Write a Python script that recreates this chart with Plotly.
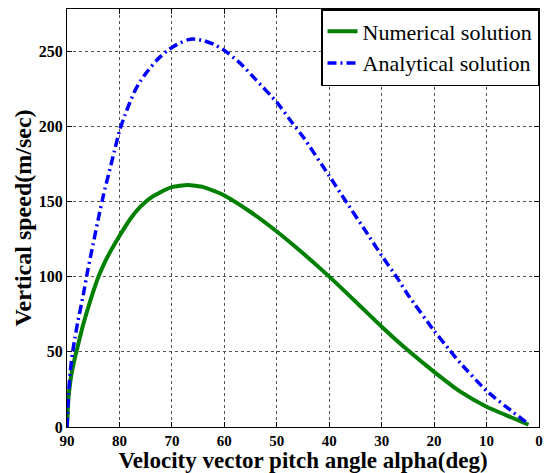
import plotly.graph_objects as go

# Pitch angle samples (deg) and vertical speed (m/sec) for each solution
alpha_num = [90, 89.7, 89.3, 89, 88.5, 88, 87, 86, 85, 84, 83, 82, 80, 78,
             76, 74, 72, 70, 67, 64, 62, 60, 55, 50, 45, 40, 35, 30, 25, 20,
             15, 10, 5, 2]
speed_num = [0, 20, 32, 38, 46, 53, 67, 79, 90, 100, 108, 115, 127, 138,
             146.5, 152.5, 156.5, 159.5, 161, 159.5, 157, 154, 143, 130,
             115.5, 100, 83.5, 66.7, 51, 36.7, 23.5, 13.5, 6, 1.5]

alpha_ana = [90, 89.7, 89.4, 89, 88.5, 88, 87, 86, 85, 84, 83, 82, 81, 80,
             79, 78, 77, 76, 75, 73, 71, 69, 67, 66, 64, 62, 60, 57, 54, 50,
             47, 45, 40, 37, 33, 30, 27, 25, 20, 17, 15, 10, 5, 2]
speed_ana = [0, 22, 36, 48, 59, 69, 86, 105, 122, 139, 155, 169, 183, 197,
             207, 216, 224, 230, 235, 243.5, 250, 254.5, 257.5, 258, 257,
             254.5, 250.5, 242, 231, 216, 202, 193, 167, 151, 130, 114, 99,
             88, 64, 51, 42.5, 24, 10, 2]

x_ticks = [90, 80, 70, 60, 50, 40, 30, 20, 10, 0]
y_ticks = [0, 50, 100, 150, 200, 250]

serif = "Liberation Serif, Times New Roman, serif"

fig = go.Figure()
fig.add_trace(go.Scatter(
    x=alpha_num, y=speed_num, mode="lines", name="Numerical solution",
    line=dict(color="#008000", width=4, shape="spline", smoothing=0.5),
))
fig.add_trace(go.Scatter(
    x=alpha_ana, y=speed_ana, mode="lines", name="Analytical solution",
    line=dict(color="#0000ff", width=3.5, dash="9px,4px,2px,4px",
              shape="spline", smoothing=0.5),
))

axis_common = dict(
    showline=True, linecolor="black", linewidth=1.2, mirror="ticks",
    ticks="inside", ticklen=5, tickcolor="black", tickwidth=1,
    showgrid=True, gridcolor="#555555", griddash="dot", gridwidth=1,
    zeroline=False,
)

fig.update_xaxes(
    range=[90, 0], tickvals=x_ticks, ticklabelstandoff=0,
    tickfont=dict(family=serif, size=15, color="black", weight="bold"),
    title=dict(text="Velocity vector pitch angle alpha(deg)", standoff=3,
               font=dict(family=serif, size=23, color="black", weight="bold")),
    **axis_common,
)
fig.update_yaxes(
    range=[0, 278], tickvals=y_ticks,
    tickfont=dict(family=serif, size=16, color="black", weight="bold"),
    title=dict(text="Vertical speed(m/sec)", standoff=0,
               font=dict(family=serif, size=24, color="black", weight="bold")),
    **axis_common,
)

fig.update_layout(
    width=547, height=473,
    margin=dict(l=67, r=4, t=9, b=46),
    paper_bgcolor="white", plot_bgcolor="white",
    showlegend=True,
    legend=dict(
        x=1, y=1, xanchor="right", yanchor="top",
        bgcolor="white", bordercolor="black", borderwidth=1.5,
        font=dict(family=serif, size=22, color="black"),
        tracegroupgap=0, itemwidth=30,
    ),
)

fig.write_html("out.html")
